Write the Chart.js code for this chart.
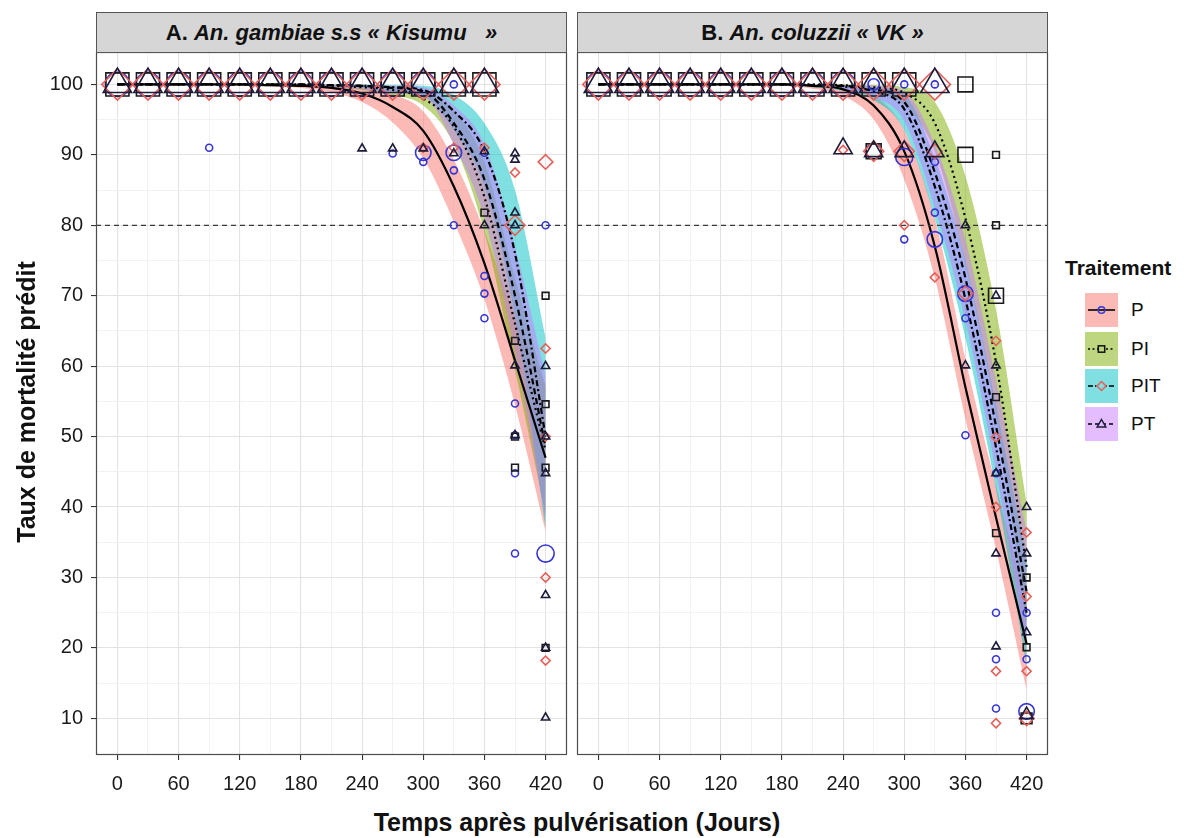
<!DOCTYPE html>
<html><head><meta charset="utf-8">
<script src="https://cdn.jsdelivr.net/npm/chart.js@4.4.1/dist/chart.umd.min.js"></script>
<style>
body{margin:0;width:1184px;height:838px;background:#fff;font-family:"Liberation Sans",Arial,sans-serif;position:relative;overflow:hidden;color:#111}
canvas{position:absolute;top:0}
.strip{position:absolute;top:12px;height:41px;background:#d6d6d6;border:1px solid #555;box-sizing:border-box;display:flex;align-items:center;justify-content:center;font-weight:bold;font-size:22px;color:#111;white-space:pre}
.ytitle{position:absolute;left:-224px;top:387px;width:500px;height:30px;line-height:30px;text-align:center;transform:rotate(-90deg);font-weight:bold;font-size:25px}
.xtitle{position:absolute;left:277px;top:807px;width:600px;height:30px;line-height:30px;text-align:center;font-weight:bold;font-size:25px}
.ltitle{position:absolute;left:1065px;top:255px;font-weight:bold;font-size:21px;line-height:26px}
.key{position:absolute;left:1085px;width:33px;height:34px}
.klab{position:absolute;left:1131px;font-size:19px;line-height:22px}
</style></head>
<body>
<canvas id="cA" width="572" height="800" style="left:0"></canvas>
<canvas id="cB" width="481" height="800" style="left:572px"></canvas>
<div class="strip" style="left:96px;width:471px">A. <i>An. gambiae s.s « Kisumu   »</i></div>
<div class="strip" style="left:577px;width:471px">B. <i>An. coluzzii « VK »</i></div>
<div class="ytitle">Taux de mortalité prédit</div>
<div class="xtitle">Temps après pulvérisation (Jours)</div>
<div class="ltitle">Traitement</div>
<svg class="key" style="top:293px" viewBox="0 0 33 34"><rect width="33" height="34" fill="rgba(248,118,109,0.5)"/><line x1="3" y1="17" x2="30" y2="17" stroke="#000" stroke-width="1.6"/><circle cx="16.5" cy="17" r="3.3" fill="none" stroke="#3636d4" stroke-width="1.5"/></svg>
<div class="klab" style="top:299px">P</div>
<svg class="key" style="top:332px" viewBox="0 0 33 34"><rect width="33" height="34" fill="rgba(124,174,0,0.5)"/><line x1="3" y1="17" x2="30" y2="17" stroke="#000" stroke-width="1.6" stroke-dasharray="2,2.5"/><rect x="13.3" y="13.8" width="6.4" height="6.4" fill="#bcd57f" stroke="#111" stroke-width="1.5"/></svg>
<div class="klab" style="top:338px">PI</div>
<svg class="key" style="top:369px" viewBox="0 0 33 34"><rect width="33" height="34" fill="rgba(0,191,196,0.5)"/><line x1="3" y1="17" x2="30" y2="17" stroke="#000" stroke-width="1.6" stroke-dasharray="5,2,1.5,2"/><polygon points="16.5,12.5 21,17 16.5,21.5 12,17" fill="#80dfe1" stroke="#e5605a" stroke-width="1.5"/></svg>
<div class="klab" style="top:375px">PIT</div>
<svg class="key" style="top:407px" viewBox="0 0 33 34"><rect width="33" height="34" fill="rgba(199,124,255,0.5)"/><line x1="3" y1="17" x2="30" y2="17" stroke="#000" stroke-width="1.6" stroke-dasharray="4,3"/><polygon points="16.5,12.5 20.8,20 12.2,20" fill="#e3bdff" stroke="#1c1c3a" stroke-width="1.5"/></svg>
<div class="klab" style="top:413px">PT</div>
<script>
// ---------- DATA ----------
const DAYS = [0,30,60,90,120,150,180,210,240,270,300,330,360,390,420];
const X_TICKS_ALL = [0,30,60,90,120,150,180,210,240,270,300,330,360,390,420];
const X_LABELED = [0,60,120,180,240,300,360,420];
const Y_TICKS_ALL = [10,15,20,25,30,35,40,45,50,55,60,65,70,75,80,85,90,95,100];
const Y_LABELED = [10,20,30,40,50,60,70,80,90,100];
const TREATMENTS = ['P','PI','PIT','PT'];
const THRESHOLD = 80;

// Panel A fitted curves and confidence bands
const A_P_FIT   = [100,100,100,100,100,99.9,99.8,99.5,98.7,96.8,93.4,85.5,74.6,60.8,47];
const A_P_LO    = [99.9,99.9,99.9,99.9,99.8,99.7,99.5,98.9,97.5,94.6,89.5,80.5,69.5,54.5,36.5];
const A_P_HI    = [100,100,100,100,100,100,100,99.9,99.5,98.6,96.2,89.3,79.2,67,57.5];
const A_PI_FIT  = [100,100,100,100,100,100,99.9,99.8,99.6,99.2,98,94,84,66,48];
const A_PI_LO   = [99.9,99.9,99.9,99.9,99.9,99.9,99.8,99.6,99.2,98.5,97,91.5,79,59.5,39];
const A_PI_HI   = [100,100,100,100,100,100,100,100,99.9,99.7,99,96.3,89,72.5,57];
const A_PIT_FIT = [100,100,100,100,100,100,100,99.9,99.8,99.6,99.2,96.2,90.5,76,50];
const A_PIT_LO  = [99.9,99.9,99.9,99.9,99.9,99.9,99.9,99.7,99.5,99,98.4,93.5,85.5,67,37];
const A_PIT_HI  = [100,100,100,100,100,100,100,100,100,99.9,99.8,98.5,94.5,85,64];
const A_PT_FIT  = [100,100,100,100,100,100,100,99.9,99.8,99.5,99,94.5,86.5,70,48.5];
const A_PT_LO   = [99.9,99.9,99.9,99.9,99.9,99.9,99.8,99.6,99.3,98.8,98.3,91.5,81,62,38.5];
const A_PT_HI   = [100,100,100,100,100,100,100,100,99.9,99.8,99.6,97,91.5,77,58.5];

// Panel B fitted curves and confidence bands
const B_P_FIT   = [100,100,100,100,100,100,100,99.8,99.3,97,90.5,77,57,38.5,20.6];
const B_P_LO    = [99.9,99.9,99.9,99.9,99.9,99.9,99.8,99.4,98.4,95,86.5,72.5,52.5,34,14];
const B_P_HI    = [100,100,100,100,100,100,100,100,99.8,98.5,93.5,81,61,43,27];
const B_PI_FIT  = [100,100,100,100,100,100,100,100,99.9,99.6,98.8,94.5,81,60.5,31.5];
const B_PI_LO   = [100,100,100,100,100,100,99.9,99.9,99.7,99,97,90.5,74.5,53,23.5];
const B_PI_HI   = [100,100,100,100,100,100,100,100,100,99.9,99.6,97.5,87,68,40.5];
const B_PIT_FIT = [100,100,100,100,100,100,100,99.9,99.7,99,96.5,85.5,69.5,48.5,25];
const B_PIT_LO  = [99.9,99.9,99.9,99.9,99.9,99.9,99.9,99.6,99.1,97.8,93.5,81,64,42.5,17.5];
const B_PIT_HI  = [100,100,100,100,100,100,100,100,99.9,99.6,98.5,89.5,75,54.5,32.5];
const B_PT_FIT  = [100,100,100,100,100,100,100,99.9,99.8,99.3,97.5,87.5,72.5,51.5,28];
const B_PT_LO   = [99.9,99.9,99.9,99.9,99.9,99.9,99.9,99.7,99.3,98.2,94.8,82.5,66.5,45,20];
const B_PT_HI   = [100,100,100,100,100,100,100,100,99.9,99.8,99,91.5,78,58,36.5];

// Observed mortality: [day, value, sample-size class]
const A_P_OBS = [[0,100,3],[30,100,3],[60,100,3],[90,100,3],[120,100,3],[150,100,3],[180,100,3],[210,100,3],[240,100,3],[270,100,3],[300,100,3],[330,100,1],
  [90,91,1],[270,90.2,1],[300,90.3,2],[300,89,1],[330,90.3,2],[330,87.8,1],[330,80,1],[360,90.3,1],[360,72.8,1],[360,70.3,1],[360,66.8,1],
  [390,54.7,1],[390,50.2,1],[390,44.8,1],[390,33.4,1],[420,80,1],[420,33.4,2.2]];
const A_PI_OBS = [[0,100,3],[30,100,3],[60,100,3],[90,100,3],[120,100,3],[150,100,3],[180,100,3],[210,100,3],[240,100,3],[270,100,3],[300,100,3],[330,100,3],[360,100,3],
  [360,81.8,1],[390,63.6,1],[390,50,1],[390,45.6,1],[420,70,1],[420,54.6,1],[420,45.6,1],[420,20,1]];
const A_PIT_OBS = [[0,100,3],[30,100,3],[60,100,3],[90,100,3],[120,100,3],[150,100,3],[180,100,3],[210,100,3],[240,100,3],[270,100,3],[300,100,3],[330,100,3],[360,100,3],
  [300,91,1],[330,91,1],[360,91,1],[390,87.5,1],[390,80,2],[420,89,1.5],[420,62.5,1],[420,50,1],[420,30,1],[420,18.2,1]];
const A_PT_OBS = [[0,100,3],[30,100,3],[60,100,3],[90,100,3],[120,100,3],[150,100,3],[180,100,3],[210,100,3],[240,100,3],[270,100,3],[300,100,3],[330,100,3],[360,100,3],
  [240,90.9,1],[270,90.9,1],[300,90.9,1],[330,90.2,1],[360,90.5,1],[360,80,1],[390,90.2,1],[390,89.3,1],[390,81.8,1],[390,80,1],[390,60.1,1],[390,50.2,1],
  [420,60,1],[420,50,1],[420,44.8,1],[420,27.5,1],[420,20,1],[420,10.1,1]];

const B_P_OBS = [[0,100,3],[30,100,3],[60,100,3],[90,100,3],[120,100,3],[150,100,3],[180,100,3],[210,100,3],[240,100,3],[270,100,1.5],[300,100,1],[330,100,1],
  [270,90.5,2],[300,89.7,2.2],[330,89,1],[330,81.8,1],[300,78,1],[330,78,2],[360,70.3,2],[360,66.8,1],[360,50.2,1],
  [390,44.8,1],[390,25,1],[390,18.4,1],[390,11.4,1],[420,25,1],[420,18.4,1],[420,11,2]];
const B_PI_OBS = [[0,100,3],[30,100,3],[60,100,3],[90,100,3],[120,100,3],[150,100,3],[180,100,3],[210,100,3],[240,100,3],[270,100,3],[300,100,3],[360,100,2],
  [270,90.5,2],[360,90,2],[390,90,1],[390,80,1],[390,70,2],[390,55.6,1],[390,36.3,1],[420,30,1],[420,20.1,1],[420,10,1.5]];
const B_PIT_OBS = [[0,100,3],[30,100,3],[60,100,3],[90,100,3],[120,100,3],[150,100,3],[180,100,3],[210,100,3],[240,100,3],[270,100,3],[300,100,3],[330,100,3],
  [240,90.7,1],[270,90.5,2],[300,90.5,2],[330,90.5,1.5],[300,80,1],[330,72.6,1],[360,70.3,1.5],[390,63.6,1],[390,49.9,1],[390,40,1],[390,16.7,1],[390,9.3,1],
  [420,36.4,1],[420,27.3,1],[420,16.7,1],[420,10,1.5]];
const B_PT_OBS = [[0,100,3],[30,100,3],[60,100,3],[90,100,3],[120,100,3],[150,100,3],[180,100,3],[210,100,3],[240,100,3],[270,100,3],[300,100,3],[330,100,3],
  [240,90.9,2],[270,90.5,2],[300,90.5,2],[330,90.5,2],[360,80,1],[360,60.1,1],[390,70,1],[390,60.1,1],[390,44.8,1],[390,33.4,1],[390,20.2,1],
  [420,40,1],[420,33.4,1],[420,22.2,1],[420,10.5,1.5]];

// ---------- STYLE ----------
const STYLE = {
  P:   {ribbon:'rgba(248,118,109,0.5)', dash:[],        shape:'circle',   color:'#3636d4'},
  PI:  {ribbon:'rgba(124,174,0,0.5)',   dash:[2,3.5],   shape:'rect',     color:'#1a1a1a'},
  PIT: {ribbon:'rgba(0,191,196,0.5)',   dash:[6,3,2,3], shape:'rectRot',  color:'#e5605a'},
  PT:  {ribbon:'rgba(199,124,255,0.5)', dash:[6,4],     shape:'triangle', color:'#1c1c3a'}
};
const SHAPE_SCALE = {circle:1, rect:1.36, rectRot:1.3, triangle:1.36};
const markerSize = n => 4.25*n - 0.75;
const X_MIN = -21, X_MAX = 441, Y_MIN = 4.8, Y_MAX = 104.6;

const toXY = arr => DAYS.map((d,i)=>({x:d, y:arr[i]}));

function panelDatasets(fits, obs){
  const ds = [];
  [...TREATMENTS].reverse().forEach(t=>{
    const st = STYLE[t];
    ds.push({type:'scatter', label:t, data: obs[t].map(([x,y,n])=>({x,y,n})),
      pointStyle: st.shape,
      pointRadius: c => markerSize(c.raw.n)*SHAPE_SCALE[st.shape],
      pointBorderColor: st.color, pointBackgroundColor:'rgba(0,0,0,0)',
      pointBorderWidth: 1.6, showLine:false, order:1});
  });
  ds.push({type:'line', data:[{x:X_MIN,y:THRESHOLD},{x:X_MAX,y:THRESHOLD}], borderColor:'#3a3a3a',
    borderWidth:1.3, borderDash:[5,4], pointRadius:0, fill:false, order:2});
  TREATMENTS.forEach(t=>{
    const st = STYLE[t];
    ds.push({type:'line', data: toXY(fits[t].fit), borderColor:'#000', borderWidth:2.2,
      borderDash: st.dash, pointRadius:0, fill:false, cubicInterpolationMode:'monotone', order:3});
  });
  [...TREATMENTS].reverse().forEach(t=>{
    const st = STYLE[t];
    ds.push({type:'line', data: toXY(fits[t].lo), borderColor:'transparent', borderWidth:1,
      pointRadius:0, fill:false, cubicInterpolationMode:'monotone', order:4});
    ds.push({type:'line', data: toXY(fits[t].hi), borderColor:'transparent', borderWidth:1,
      pointRadius:0, fill:'-1', backgroundColor: st.ribbon, cubicInterpolationMode:'monotone', order:4});
  });
  return ds;
}

const panelBorder = {id:'panelBorder', afterDatasetsDraw(chart){
  const {ctx, chartArea:a} = chart; ctx.save(); ctx.strokeStyle='#4d4d4d'; ctx.lineWidth=1.2;
  ctx.strokeRect(a.left+0.5, a.top+0.5, a.right-a.left-1, a.bottom-a.top-1); ctx.restore();}};

const TICK_FONT = {family:'"Liberation Sans", Arial, sans-serif', size:20};

function makeOptions(showY, padLeft){
  return {
    responsive:false, animation:false, events:[],
    layout:{autoPadding:false, padding:{top:52, right:5, bottom:0, left:padLeft}},
    plugins:{legend:{display:false}, tooltip:{enabled:false}},
    scales:{
      x:{type:'linear', min:X_MIN, max:X_MAX,
        afterBuildTicks: s => { s.ticks = X_TICKS_ALL.map(v=>({value:v})); },
        afterFit: s => { s.height = 45; s.paddingLeft = 0; s.paddingRight = 0; },
        ticks:{autoSkip:false, maxRotation:0, padding:12, color:'#1a1a1a', font:TICK_FONT,
          callback: v => X_LABELED.includes(v) ? String(v) : ''},
        grid:{tickLength:5, drawTicks:true,
          color: c => X_LABELED.includes(c.tick.value) ? '#e3e3e3' : '#efefef',
          lineWidth: c => X_LABELED.includes(c.tick.value) ? 1.1 : 0.8,
          tickColor: c => X_LABELED.includes(c.tick.value) ? '#333' : 'rgba(0,0,0,0)'},
        border:{display:false}},
      y:{type:'linear', min:Y_MIN, max:Y_MAX,
        afterBuildTicks: s => { s.ticks = Y_TICKS_ALL.map(v=>({value:v})); },
        afterFit: s => { s.width = showY ? 96 : 0; s.paddingTop = 0; s.paddingBottom = 0; },
        ticks:{display:showY, autoSkip:false, padding:8, color:'#1a1a1a', font:TICK_FONT,
          callback: v => Y_LABELED.includes(v) ? String(v) : ''},
        grid:{tickLength: showY ? 5 : 0, drawTicks: showY,
          color: c => Y_LABELED.includes(c.tick.value) ? '#e3e3e3' : '#efefef',
          lineWidth: c => Y_LABELED.includes(c.tick.value) ? 1.1 : 0.8,
          tickColor: c => Y_LABELED.includes(c.tick.value) ? '#333' : 'rgba(0,0,0,0)'},
        border:{display:false}}
    }
  };
}

const fitsA = {P:{fit:A_P_FIT,lo:A_P_LO,hi:A_P_HI}, PI:{fit:A_PI_FIT,lo:A_PI_LO,hi:A_PI_HI},
  PIT:{fit:A_PIT_FIT,lo:A_PIT_LO,hi:A_PIT_HI}, PT:{fit:A_PT_FIT,lo:A_PT_LO,hi:A_PT_HI}};
const fitsB = {P:{fit:B_P_FIT,lo:B_P_LO,hi:B_P_HI}, PI:{fit:B_PI_FIT,lo:B_PI_LO,hi:B_PI_HI},
  PIT:{fit:B_PIT_FIT,lo:B_PIT_LO,hi:B_PIT_HI}, PT:{fit:B_PT_FIT,lo:B_PT_LO,hi:B_PT_HI}};
const obsA = {P:A_P_OBS, PI:A_PI_OBS, PIT:A_PIT_OBS, PT:A_PT_OBS};
const obsB = {P:B_P_OBS, PI:B_PI_OBS, PIT:B_PIT_OBS, PT:B_PT_OBS};

new Chart(document.getElementById('cA'), {type:'scatter', data:{datasets:panelDatasets(fitsA, obsA)},
  options:makeOptions(true, 0), plugins:[panelBorder]});
new Chart(document.getElementById('cB'), {type:'scatter', data:{datasets:panelDatasets(fitsB, obsB)},
  options:makeOptions(false, 5), plugins:[panelBorder]});
</script>
</body></html>
